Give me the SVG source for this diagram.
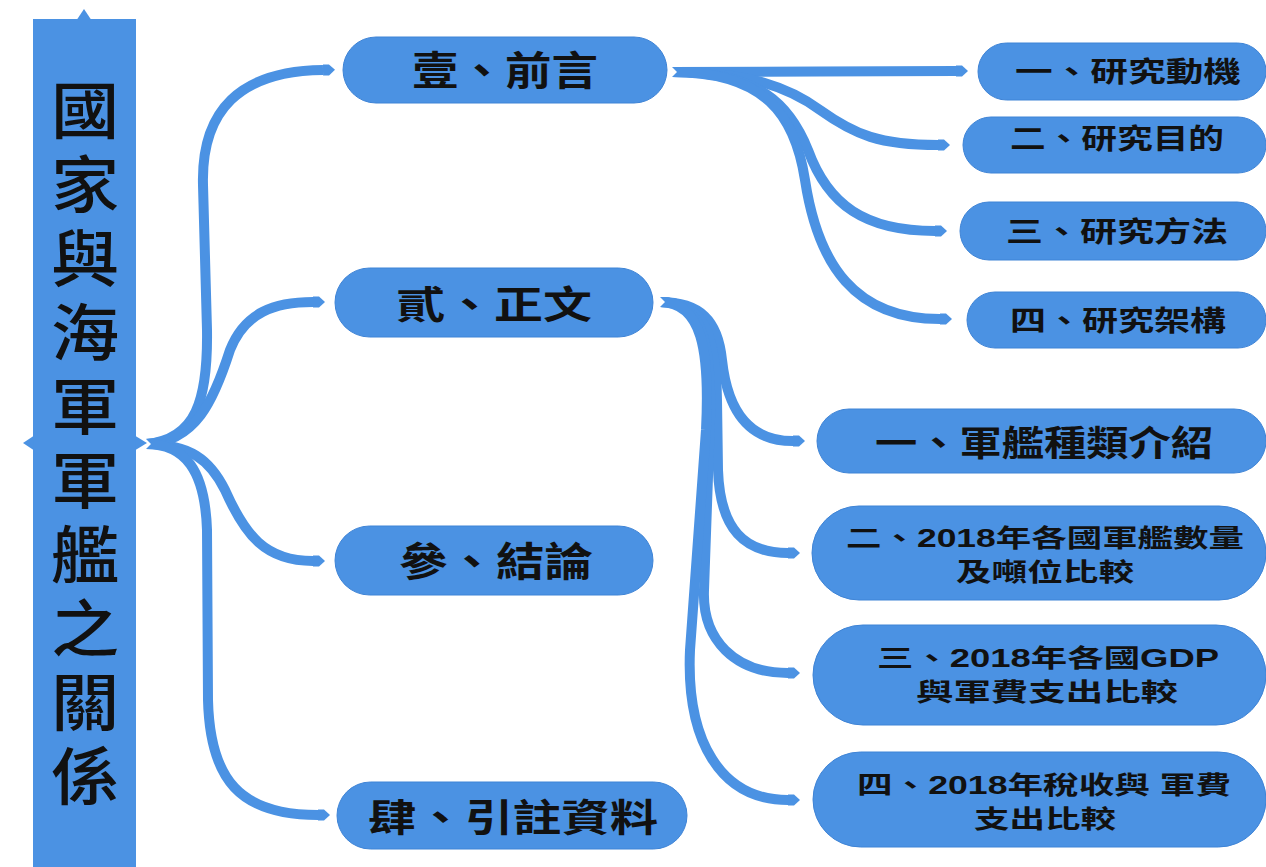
<svg xmlns="http://www.w3.org/2000/svg" width="1266" height="867" viewBox="0 0 1266 867">
<style>
.node{fill:#4B92E3;stroke:#3F84D6;stroke-width:1}
.root{fill:#4B92E3}
.t{font-family:"Liberation Sans","Noto Sans CJK TC",sans-serif;font-weight:bold;fill:#111;text-anchor:middle}
.rt{font-family:"Noto Sans CJK TC","Liberation Sans",sans-serif;font-weight:500;fill:#111;font-size:62px;letter-spacing:12px;writing-mode:vertical-rl}
.c{fill:none;stroke:#4B92E3;stroke-width:10;marker-end:url(#tip);marker-start:url(#notch)}
</style>
<defs>
<marker id="tip" markerUnits="userSpaceOnUse" viewBox="0 0 12 12" markerWidth="12" markerHeight="12" refX="0" refY="6" orient="auto">
<path d="M0,0.5 L6,0.5 L12,6 L6,11.5 L0,11.5 z" fill="#4B92E3"/>
</marker>
<marker id="notch" markerUnits="userSpaceOnUse" viewBox="-2 -1 10 14" markerWidth="10" markerHeight="14" refX="0" refY="6" orient="auto">
<path d="M-2,-1 L5,6 L-2,13 z" fill="#fff"/>
</marker>
</defs>
<rect width="1266" height="867" fill="#fff"/>

<g id="connectors">
<path class="c" d="M146,444 C196,440 208,400 207,330 L203,185 C201,110 240,71 323,70"/>
<path class="c" d="M146,444 C196,442 214,400 230,350 C245,312 275,302 313,302"/>
<path class="c" d="M146,444 C190,444 210,460 225,490 C245,535 265,561 313,561"/>
<path class="c" d="M146,444 C185,444 205,470 207,530 L208,700 C210,780 240,815 318,815"/>
<path class="c" d="M672,72 C780,72 850,71 956,71"/>
<path class="c" d="M672,72 C750,72 790,88 820,110 C855,135 880,145 938,145"/>
<path class="c" d="M672,72 C760,72 790,105 808,150 C828,205 865,231 935,231"/>
<path class="c" d="M672,72 C765,72 795,115 805,180 C818,265 855,319 940,319"/>
<path class="c" d="M660,302 C700,302 718,320 722,360 C728,415 752,441 793,441"/>
<path class="c" d="M660,302 C702,302 716,330 717,400 L718,470 C720,530 745,553 788,553"/>
<path class="c" d="M660,302 C702,302 712,340 710,420 L704,590 C702,640 735,673 788,673"/>
<path class="c" d="M660,302 C702,302 710,350 706,430 L690,650 C686,740 720,800 788,800"/>
</g>

<g id="root">
<rect class="root" x="33" y="19" width="103" height="860"/>
<path class="root" d="M84,9 L77,19.5 L91,19.5 z"/>
<path class="root" d="M23,443 L33.5,436 L33.5,450 z"/>
<path class="root" d="M147,443 L135.5,436 L135.5,450 z"/>
<g transform="translate(85,0) scale(1.1,1)">
<text class="rt" x="0" y="79">國家與海軍軍艦之關係</text>
</g>
</g>

<g id="n1">
<rect class="node" x="343" y="37" width="324" height="66" rx="33"/>
<text class="t" x="505" y="85" font-size="40" textLength="186" lengthAdjust="spacingAndGlyphs">壹、前言</text>
</g>
<g id="n2">
<rect class="node" x="335" y="268" width="318" height="69" rx="34.5"/>
<text class="t" x="494" y="318" font-size="38" textLength="196" lengthAdjust="spacingAndGlyphs">貳、正文</text>
</g>
<g id="n3">
<rect class="node" x="335" y="526" width="318" height="69" rx="34.5"/>
<text class="t" x="496" y="576" font-size="40" textLength="194" lengthAdjust="spacingAndGlyphs">參、結論</text>
</g>
<g id="n4">
<rect class="node" x="337" y="782" width="350" height="67" rx="33.5"/>
<text class="t" x="513" y="831" font-size="38" textLength="290" lengthAdjust="spacingAndGlyphs">肆、引註資料</text>
</g>

<g id="n1a">
<rect class="node" x="978" y="43" width="288" height="57" rx="28.5"/>
<text class="t" x="1128" y="82" font-size="28" textLength="226" lengthAdjust="spacingAndGlyphs">一、研究動機</text>
</g>
<g id="n1b">
<rect class="node" x="963" y="117" width="303" height="56" rx="28"/>
<text class="t" x="1117" y="149" font-size="28" textLength="214" lengthAdjust="spacingAndGlyphs">二、研究目的</text>
</g>
<g id="n1c">
<rect class="node" x="960" y="202" width="306" height="58" rx="29"/>
<text class="t" x="1117" y="242" font-size="28" textLength="222" lengthAdjust="spacingAndGlyphs">三、研究方法</text>
</g>
<g id="n1d">
<rect class="node" x="967" y="292" width="299" height="56" rx="28"/>
<text class="t" x="1118" y="331" font-size="28" textLength="216" lengthAdjust="spacingAndGlyphs">四、研究架構</text>
</g>

<g id="n2a">
<rect class="node" x="817" y="409" width="449" height="64" rx="32"/>
<text class="t" x="1044" y="456" font-size="35" textLength="338" lengthAdjust="spacingAndGlyphs">一、軍艦種類介紹</text>
</g>
<g id="n2b">
<rect class="node" x="812" y="506" width="454" height="94" rx="47"/>
<text class="t" x="1045" y="547" font-size="25" textLength="398" lengthAdjust="spacingAndGlyphs">二、2018年各國軍艦數量</text>
<text class="t" x="1045" y="581" font-size="25" textLength="178" lengthAdjust="spacingAndGlyphs">及噸位比較</text>
</g>
<g id="n2c">
<rect class="node" x="813" y="625" width="453" height="100" rx="50"/>
<text class="t" x="1048" y="667" font-size="25" textLength="342" lengthAdjust="spacingAndGlyphs">三、2018年各國GDP</text>
<text class="t" x="1047" y="701" font-size="25" textLength="262" lengthAdjust="spacingAndGlyphs">與軍費支出比較</text>
</g>
<g id="n2d">
<rect class="node" x="813" y="752" width="453" height="95" rx="47.5"/>
<text class="t" x="1044" y="794" font-size="25" textLength="374" lengthAdjust="spacingAndGlyphs">四、2018年稅收與 軍費</text>
<text class="t" x="1045" y="828" font-size="25" textLength="142" lengthAdjust="spacingAndGlyphs">支出比較</text>
</g>
</svg>
